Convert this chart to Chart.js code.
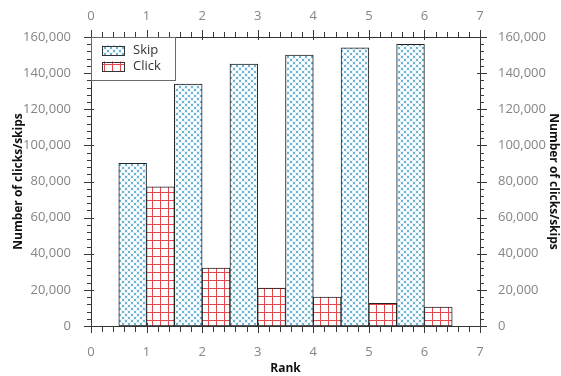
<!DOCTYPE html>
<html>
<head>
<meta charset="utf-8">
<script src="https://cdn.jsdelivr.net/npm/chart.js@4.4.1/dist/chart.umd.min.js"></script>
<style>
html,body{margin:0;padding:0;background:#fff;}
#wrap{width:561px;height:376px;}
</style>
</head>
<body>
<div id="wrap"><canvas id="c" width="561" height="376"></canvas></div>
<script>
const ranks = [1, 2, 3, 4, 5, 6];
const skips = [90000, 134000, 145000, 150000, 154000, 156000];
const clicks = [77000, 32000, 21000, 16000, 12500, 10500];
const seriesLabels = ['Skip', 'Click'];
const xTickRange = [0, 7];
const yTickRange = [0, 160000];

function skipPattern() {
  const t = document.createElement('canvas');
  t.width = 6; t.height = 6;
  const g = t.getContext('2d');
  g.fillStyle = '#92c9e0'; g.fillRect(0, 0, 6, 6);
  g.fillStyle = '#ffffff';
  [[0,0],[6,0],[0,6],[6,6],[3,3]].forEach(([cx, cy]) => {
    g.beginPath(); g.arc(cx, cy, 2.1, 0, Math.PI * 2); g.fill();
  });
  g.fillStyle = '#3d95c0';
  [[3,0],[0,3],[3,6],[6,3]].forEach(([cx, cy]) => {
    g.beginPath(); g.arc(cx, cy, 0.8, 0, Math.PI * 2); g.fill();
  });
  return g.createPattern(t, 'repeat');
}
function clickPattern() {
  const t = document.createElement('canvas');
  t.width = 8; t.height = 8;
  const g = t.getContext('2d');
  g.fillStyle = '#ffffff'; g.fillRect(0, 0, 8, 8);
  g.strokeStyle = '#e4474c'; g.lineWidth = 1;
  g.beginPath();
  g.moveTo(0.5, 0); g.lineTo(0.5, 8);
  g.moveTo(0, 0.5); g.lineTo(8, 0.5);
  g.stroke();
  return g.createPattern(t, 'repeat');
}

const tickFont = {family: "'Open Sans', sans-serif", size: 13};
const titleFont = {family: "'Open Sans', sans-serif", size: 12, weight: 'bold'};
const tickColor = '#858585';
const fmt = v => Number(v).toLocaleString('en-US');

const minorTicks = {
  id: 'minorTicks',
  afterDatasetsDraw(chart) {
    const ctx = chart.ctx;
    ctx.save();
    ctx.strokeStyle = '#3a3a3a';
    ctx.lineWidth = 1;
    const sx = chart.scales.x, sy = chart.scales.y;
    const ca = chart.chartArea;
    const line = (x1, y1, x2, y2) => { ctx.beginPath(); ctx.moveTo(x1, y1); ctx.lineTo(x2, y2); ctx.stroke(); };
    for (let i = 0; i <= 35; i++) {
      const v = i / 5;
      const px = Math.round(sx.getPixelForValue(v)) + 0.5;
      const major = i % 5 === 0;
      const yb = ca.bottom, yt = ca.top;
      if (major) { line(px, yb - 3, px, yb + 7); line(px, yt + 3, px, yt - 7); }
      else { line(px, yb, px, yb + 6); line(px, yt, px, yt - 5); }
    }
    for (let i = 0; i <= 40; i++) {
      const v = i * 4000;
      const py = Math.round(sy.getPixelForValue(v)) + 0.5;
      const major = i % 5 === 0;
      const xl = ca.left, xr = ca.right;
      if (major) { line(xl - 7, py, xl + 3, py); line(xr + 7, py, xr - 3, py); }
      else { line(xl - 4, py, xl, py); line(xr + 4, py, xr, py); }
    }
    ctx.restore();
  }
};

const legendBox = {
  id: 'legendBox',
  afterDraw(chart) {
    const ctx = chart.ctx;
    const ca = chart.chartArea;
    const x0 = ca.left, y0 = ca.top;
    ctx.save();
    ctx.fillStyle = '#fff';
    ctx.fillRect(x0, y0, 84, 43);
    ctx.strokeStyle = '#6a6a6a';
    ctx.lineWidth = 1;
    ctx.strokeRect(Math.round(x0) + 0.5, Math.round(y0) + 0.5, 84, 43);
    chart.data.datasets.forEach((ds, i) => {
      const sy = y0 + 8.5 + i * 16;
      ctx.fillStyle = ds.backgroundColor;
      ctx.fillRect(x0 + 11, sy, 22, 10);
      ctx.strokeStyle = '#333';
      ctx.strokeRect(Math.round(x0 + 11) + 0.5, Math.round(sy) + 0.5, 22, 9);
      ctx.fillStyle = '#333';
      ctx.font = "13px 'Open Sans', sans-serif";
      ctx.textBaseline = 'middle';
      ctx.fillText(ds.label, x0 + 42, sy + 5);
    });
    ctx.restore();
  }
};

new Chart(document.getElementById('c'), {
  type: 'bar',
  data: {
    datasets: [
      {
        label: seriesLabels[0],
        data: ranks.map((r, i) => ({x: r, y: skips[i]})),
        backgroundColor: skipPattern(),
        borderColor: '#222',
        borderWidth: 1,
        borderSkipped: false,
        categoryPercentage: 1,
        barPercentage: 1,
        xAxisID: 'x', yAxisID: 'y'
      },
      {
        label: seriesLabels[1],
        data: ranks.map((r, i) => ({x: r, y: clicks[i]})),
        backgroundColor: clickPattern(),
        borderColor: '#222',
        borderWidth: 1,
        borderSkipped: false,
        categoryPercentage: 1,
        barPercentage: 1,
        xAxisID: 'x', yAxisID: 'y'
      }
    ]
  },
  options: {
    responsive: false,
    animation: false,
    devicePixelRatio: 1,
    layout: {padding: 0},
    plugins: {legend: {display: false}, tooltip: {enabled: false}},
    scales: {
      x: {
        type: 'linear', position: 'bottom', min: xTickRange[0], max: xTickRange[1], offset: false,
        ticks: {stepSize: 1, font: tickFont, color: tickColor, padding: 10, maxRotation: 0},
        grid: {display: false},
        border: {display: true, color: '#333', width: 1},
        title: {display: true, text: 'Rank', font: titleFont, color: '#111', padding: {top: 0, bottom: 0}},
        afterFit: s => { s.height = 50; }
      },
      x2: {
        type: 'linear', position: 'top', min: xTickRange[0], max: xTickRange[1], offset: false, display: true,
        ticks: {stepSize: 1, font: tickFont, color: tickColor, padding: 5, maxRotation: 0},
        grid: {display: false},
        border: {display: true, color: '#333', width: 1},
        afterFit: s => { s.height = 37; }
      },
      y: {
        type: 'linear', position: 'left', min: yTickRange[0], max: yTickRange[1],
        ticks: {stepSize: 20000, font: tickFont, color: tickColor, padding: 12, callback: fmt},
        grid: {display: false},
        border: {display: true, color: '#333', width: 1},
        title: {display: true, text: 'Number of clicks/skips', font: titleFont, color: '#111', padding: {top: 11, bottom: 0}},
        afterFit: s => { s.width = 91; }
      },
      y2: {
        type: 'linear', position: 'right', min: yTickRange[0], max: yTickRange[1], display: true,
        ticks: {stepSize: 20000, font: tickFont, color: tickColor, padding: 10, callback: fmt},
        grid: {display: false},
        border: {display: true, color: '#333', width: 1},
        title: {display: true, text: 'Number of clicks/skips', font: titleFont, color: '#111', padding: {top: 0, bottom: 0}},
        afterFit: s => { s.width = 81; }
      }
    }
  },
  plugins: [minorTicks, legendBox]
});
</script>
</body>
</html>
